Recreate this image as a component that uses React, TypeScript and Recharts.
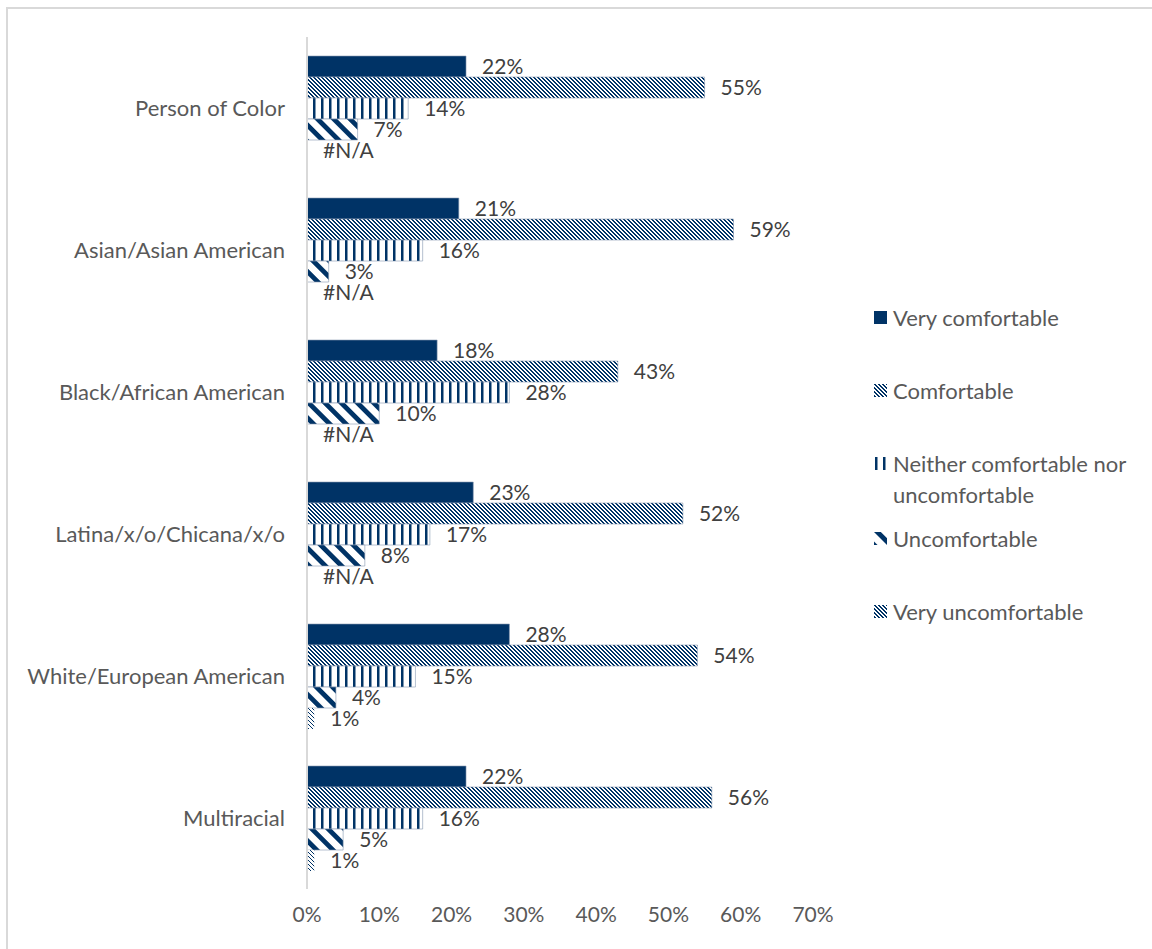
import { BarChart, Bar, XAxis, YAxis, LabelList } from 'recharts';

const categories = [
  'Person of Color',
  'Asian/Asian American',
  'Black/African American',
  'Latina/x/o/Chicana/x/o',
  'White/European American',
  'Multiracial',
];
const seriesNames = [
  'Very comfortable',
  'Comfortable',
  'Neither comfortable nor uncomfortable',
  'Uncomfortable',
  'Very uncomfortable',
];
const veryComfortable = [22, 21, 18, 23, 28, 22];
const comfortable = [55, 59, 43, 52, 54, 56];
const neither = [14, 16, 28, 17, 15, 16];
const uncomfortable = [7, 3, 10, 8, 4, 5];
const veryUncomfortable = [null, null, null, null, 1, 1];
const xTicks = [0, 10, 20, 30, 40, 50, 60, 70];

const series = [veryComfortable, comfortable, neither, uncomfortable, veryUncomfortable];

const data = categories.map((name, i) => {
  const row: Record<string, string | number> = { name };
  series.forEach((s, k) => {
    const v = s[i];
    row['s' + k] = v ?? 0;
    row['l' + k] = v == null ? '#N/A' : v + '%';
  });
  return row;
});

const NAVY = '#003366';
const FONT = 'Lato, "Open Sans", sans-serif';

function Patterns({ prefix }: { prefix: string }) {
  return (
    <defs>
      <pattern id={prefix + 'comf'} patternUnits="userSpaceOnUse" width={4} height={4}>
        <rect width={4} height={4} fill="#fff" />
        <rect x={0} y={0} width={2} height={1} fill={NAVY} />
        <rect x={1} y={1} width={2} height={1} fill={NAVY} />
        <rect x={2} y={2} width={2} height={1} fill={NAVY} />
        <rect x={3} y={3} width={1} height={1} fill={NAVY} />
        <rect x={0} y={3} width={1} height={1} fill={NAVY} />
      </pattern>
      <pattern id={prefix + 'vuncomf'} patternUnits="userSpaceOnUse" width={4} height={4}>
        <rect width={4} height={4} fill="#fff" />
        <rect x={0} y={0} width={1} height={1} fill={NAVY} />
        <rect x={1} y={1} width={1} height={1} fill={NAVY} />
        <rect x={2} y={2} width={1} height={1} fill={NAVY} />
        <rect x={3} y={3} width={1} height={1} fill={NAVY} />
      </pattern>
      <pattern id={prefix + 'neither'} patternUnits="userSpaceOnUse" width={8} height={8}>
        <rect width={8} height={8} fill="#fff" />
        <rect x={1} y={0} width={2.5} height={8} fill={NAVY} />
      </pattern>
      <pattern
        id={prefix + 'uncomf'}
        patternUnits="userSpaceOnUse"
        width={11.5}
        height={10}
        patternTransform="rotate(-45)"
      >
        <rect width={11.5} height={10} fill="#fff" />
        <rect x={0} y={0} width={4.8} height={10} fill={NAVY} />
      </pattern>
    </defs>
  );
}

const fills = (p: string) => [
  NAVY,
  `url(#${p}comf)`,
  `url(#${p}neither)`,
  `url(#${p}uncomf)`,
  `url(#${p}vuncomf)`,
];

const legendCenters = [317, 390, 463, 538, 611];

function LegendBox() {
  return (
    <div style={{ position: 'absolute', left: 0, top: 0 }}>
      {seriesNames.map((n, i) => (
        <div
          key={n}
          style={{
            position: 'absolute',
            left: 874,
            top: legendCenters[i] - 15.5,
            width: 280,
            display: 'flex',
            alignItems: 'flex-start',
          }}
        >
          <svg width={13} height={13} style={{ marginTop: 9, flex: 'none' }}>
            <Patterns prefix={'lg' + i} />
            <rect width={13} height={13} fill={i === 4 ? fills('lg' + i)[1] : fills('lg' + i)[i]} />
          </svg>
          <span
            style={{
              marginLeft: 6,
              fontSize: 22,
              lineHeight: '31px',
              color: '#595959',
              width: 262,
            }}
          >
            {n}
          </span>
        </div>
      ))}
    </div>
  );
}

export default function App() {
  const f = fills('c');
  return (
    <div
      style={{
        position: 'absolute',
        left: 0,
        top: 0,
        width: 1152,
        height: 949,
        overflow: 'hidden',
        background: '#fff',
        fontFamily: FONT,
      }}
    >
      <div
        style={{
          position: 'absolute',
          left: 6,
          top: 7,
          width: 1200,
          height: 1000,
          borderTop: '2px solid #d9d9d9',
          borderLeft: '2px solid #d9d9d9',
        }}
      />
      <div style={{ position: 'absolute', left: 0, top: 0 }}>
        <BarChart
          width={1152}
          height={949}
          data={data}
          layout="vertical"
          margin={{ top: 37, right: 339, bottom: 0, left: 0 }}
          barCategoryGap="13.4%"
          barGap={0}
        >
          <Patterns prefix="c" />
          <XAxis
            type="number"
            domain={[0, 70]}
            ticks={xTicks}
            tickFormatter={(v) => v + '%'}
            axisLine={false}
            tickLine={false}
            tickSize={0}
            tickMargin={18}
            height={60}
            tick={{ fill: '#595959', fontSize: 21, fontFamily: FONT }}
          />
          <YAxis
            type="category"
            dataKey="name"
            width={307}
            axisLine={{ stroke: '#d9d9d9', strokeWidth: 2 }}
            tickLine={false}
            tickSize={0}
            tickMargin={22}
            tick={{ fill: '#595959', fontSize: 22, fontFamily: FONT }}
          />
          {seriesNames.map((n, k) => (
            <Bar
              key={n}
              dataKey={'s' + k}
              name={n}
              fill={f[k]}
              stroke={k === 4 ? 'none' : '#8497b0'}
              strokeWidth={0.6}
              minPointSize={(v: number) => (v === 0 ? 0.01 : 0)}
              isAnimationActive={false}
            >
              <LabelList
                dataKey={'l' + k}
                position="right"
                offset={16}
                fill="#404040"
                fontSize={21}
                fontFamily={FONT}
              />
            </Bar>
          ))}
        </BarChart>
      </div>
      <LegendBox />
    </div>
  );
}
